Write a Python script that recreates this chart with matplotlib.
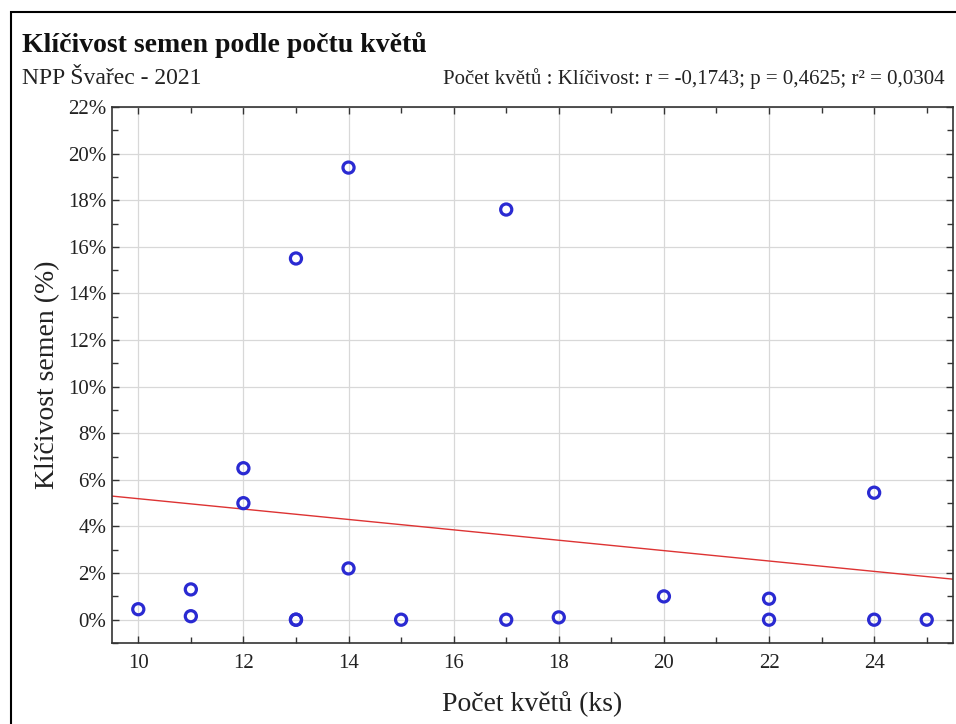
import numpy as np
import matplotlib
matplotlib.use("Agg")
import matplotlib.pyplot as plt
from matplotlib.patches import Rectangle
from matplotlib.ticker import MultipleLocator, FuncFormatter

# Data (count of flowers vs. germination %)
flowers = [10, 11, 11, 12, 12, 13, 13, 13, 14, 14, 15, 17, 17, 18, 20, 22, 22, 24, 24, 25]
germination = [0.45, 1.3, 0.15, 6.5, 5.0, 15.5, 0.0, 0.0, 19.4, 2.2, 0.0, 17.6, 0.0, 0.1,
               1.0, 0.9, 0.0, 5.45, 0.0, 0.0]

title = "Klíčivost semen podle počtu květů"
subtitle = "NPP Švařec - 2021"
stats_text = "Počet květů : Klíčivost: r = -0,1743; p = 0,4625; r² = 0,0304"
xlabel = "Počet květů (ks)"
ylabel = "Klíčivost semen (%)"

plt.rcParams['font.family'] = ['Liberation Serif', 'DejaVu Serif']

fig = plt.figure(figsize=(9.56, 7.24), dpi=100)
W, H = 956, 724
ax = fig.add_axes([112 / W, 1 - 643 / H, (953 - 112) / W, (643 - 107) / H])

x = np.array(flowers, dtype=float)
y = np.array(germination, dtype=float)

ax.set_xlim(9.5, 25.5)
ax.set_ylim(-1, 22)

# regression line
slope, intercept = np.polyfit(x, y, 1)
xl = np.array(ax.get_xlim())
ax.plot(xl, intercept + slope * xl, color='#dd3333', lw=1.0, zorder=2)

ax.scatter(x, y, s=64, facecolors='none', edgecolors='#2a2ad2', linewidths=2.3, zorder=3)

ax.xaxis.set_major_locator(MultipleLocator(2))
ax.xaxis.set_minor_locator(MultipleLocator(1))
ax.yaxis.set_major_locator(MultipleLocator(2))
ax.yaxis.set_minor_locator(MultipleLocator(1))
ax.yaxis.set_major_formatter(FuncFormatter(lambda v, p: f"{int(round(v))}%"))
ax.grid(True, which='major', color='#d8d8d8', lw=0.9, zorder=0)
ax.tick_params(which='both', direction='in', top=True, right=True, labelsize=15,
               colors='#333333', labelcolor='#222222')
ax.tick_params(axis='y', pad=4)
ax.tick_params(axis='x', pad=8)
ax.tick_params(which='major', length=5, width=1)
ax.tick_params(which='minor', length=4, width=1)
for s in ax.spines.values():
    s.set_color('#333333')
    s.set_linewidth(1.2)

ax.set_xlabel(xlabel, fontsize=20, color='#222222', labelpad=13)
ax.set_ylabel(ylabel, fontsize=20, color='#222222', labelpad=6)

fig.text(22 / W, 1 - 45 / H, title, fontsize=20, fontweight='bold', ha='left', va='center',
         color='#111111')
fig.text(22 / W, 1 - 79 / H, subtitle, fontsize=17, ha='left', va='center', color='#222222')
fig.text(945 / W, 1 - 79 / H, stats_text, fontsize=15, ha='right', va='center',
         color='#222222')

# outer frame
fig.patches.append(Rectangle((11 / W, -0.05), 1.2, 1 - 12 / H + 0.05,
                             transform=fig.transFigure, fill=False, edgecolor='black',
                             lw=1.5, zorder=10))

fig.savefig('out.png', dpi=100)
